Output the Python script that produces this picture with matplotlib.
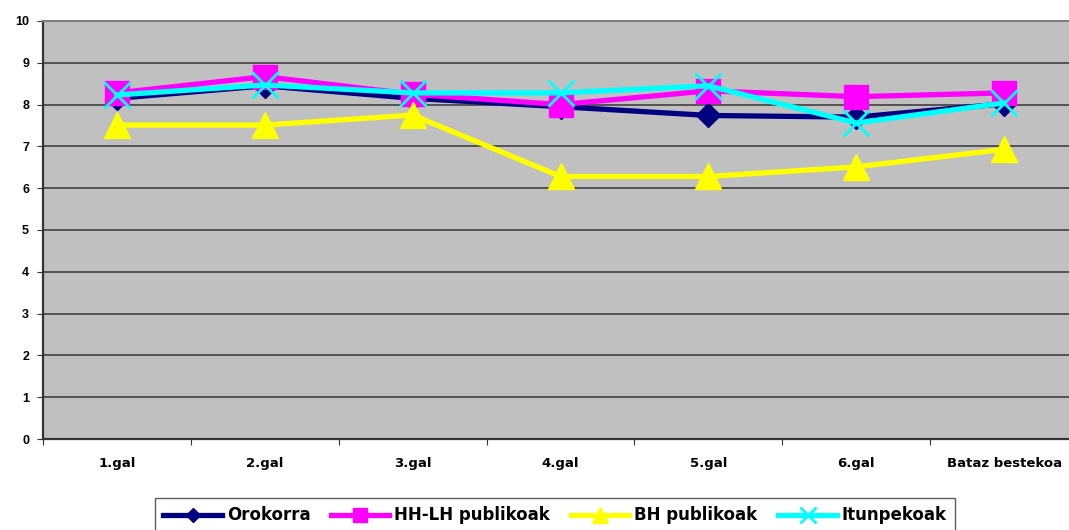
import matplotlib
matplotlib.use("Agg")
import matplotlib.pyplot as plt
from matplotlib.lines import Line2D

categories = ["1.gal", "2.gal", "3.gal", "4.gal", "5.gal", "6.gal", "Bataz bestekoa"]
orokorra = [8.15, 8.45, 8.15, 7.95, 7.74, 7.70, 8.02]
hhlh = [8.28, 8.67, 8.25, 8.00, 8.33, 8.19, 8.28]
bh = [7.51, 7.51, 7.75, 6.28, 6.28, 6.51, 6.93]
itunpekoak = [8.23, 8.47, 8.28, 8.28, 8.45, 7.56, 8.04]
yticks = list(range(0, 11))

plt.rcParams['font.family'] = ['Liberation Sans', 'DejaVu Sans']

fig = plt.figure(figsize=(10.69, 5.30), dpi=100)
W, H = 1069, 530
ax = fig.add_axes([43 / W, (H - 439) / H, 1035 / W, 418 / H])
ax.set_facecolor("#C0C0C0")

x = list(range(len(categories)))
lw = 3.8
series = [
    ("Orokorra", orokorra, "#000080", dict(marker="D", ms=12)),
    ("HH-LH publikoak", hhlh, "#FF00FF", dict(marker="s", ms=17)),
    ("BH publikoak", bh, "#FFFF00", dict(marker="^", ms=19)),
    ("Itunpekoak", itunpekoak, "#00FFFF", dict(marker="x", ms=19, mew=2)),
]
handles = []
for name, vals, col, mk in series:
    ax.plot(x, vals, color=col, lw=lw, mfc=col, mec=col, zorder=3, clip_on=False, **mk)
    hk = dict(mk)
    hk["ms"] = mk["ms"] * 0.6
    handles.append(Line2D([], [], color=col, lw=lw, mfc=col, mec=col, label=name, **hk))

ax.set_xlim(-0.5, len(categories) - 0.5)
ax.set_ylim(0, 10)
ax.set_yticks(yticks)
ax.set_yticklabels([str(t) for t in yticks], fontsize=9, fontweight="bold")
ax.yaxis.grid(True, color="#404040", lw=1.2)
ax.set_axisbelow(True)

ax.set_xticks([i + 0.5 for i in range(-1, len(categories))])
ax.set_xticklabels([])
ax.set_xticks(x, minor=True)
ax.set_xticklabels(categories, minor=True, fontsize=9.5, fontweight="bold",
                   family="DejaVu Sans")
ax.tick_params(axis="x", which="major", length=4, direction="out", color="#333333")
ax.tick_params(axis="x", which="minor", length=0, pad=13)
ax.tick_params(axis="y", length=4, direction="out", color="#333333", pad=6)

for s in ["left", "bottom"]:
    ax.spines[s].set_color("#333333")
    ax.spines[s].set_linewidth(1.6)
ax.spines["top"].set_color("#808080")
ax.spines["top"].set_linewidth(1.5)
ax.spines["right"].set_visible(False)

leg = fig.legend(handles=handles, loc="upper left", bbox_to_anchor=(155 / W, 1 - 498 / H),
                 ncol=4, frameon=True, fancybox=False, edgecolor="#333333",
                 prop={"weight": "bold", "size": 12, "family": "DejaVu Sans"},
                 handlelength=3.5, handletextpad=0.3, columnspacing=1.25,
                 borderpad=0.5, borderaxespad=0)
leg.get_frame().set_linewidth(1.0)

fig.savefig("out.png", dpi=100)
